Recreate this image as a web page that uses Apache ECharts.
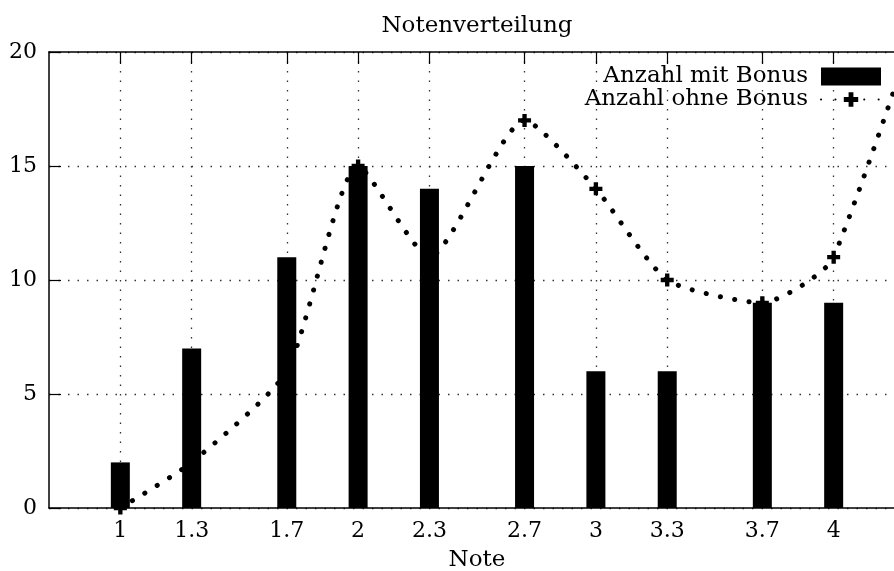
<!DOCTYPE html>
<html>
<head>
<meta charset="utf-8">
<script src="https://cdn.jsdelivr.net/npm/echarts@6/dist/echarts.min.js"></script>
<style>
  html, body { margin: 0; padding: 0; background: #fff; }
  #chart { width: 894px; height: 571px; }
</style>
</head>
<body>
<div id="chart"></div>
<script>
// Noten (x-Werte) und Häufigkeiten
const noten = [1, 1.3, 1.7, 2, 2.3, 2.7, 3, 3.3, 3.7, 4];
const mitBonus = [2, 7, 11, 15, 14, 15, 6, 6, 9, 9];
// ohne Bonus: letzter Punkt (5.0) liegt außerhalb des sichtbaren Bereichs, geschätzt
const notenOhne = [1, 1.3, 1.7, 2, 2.3, 2.7, 3, 3.3, 3.7, 4, 5];
const ohneBonus = [0, 2, 6, 15, 11, 17, 14, 10, 9, 11, 42];
const yTicks = [0, 5, 10, 15, 20];

const FONT = 'DejaVu Serif';
const chart = echarts.init(document.getElementById('chart'));

const plusSymbol = 'path://M3,0H6V3H9V6H6V9H3V6H0V3H3Z';

const option = {
  animation: false,
  backgroundColor: '#fff',
  title: {
    text: 'Notenverteilung',
    left: 477,
    top: 15,
    padding: 0,
    textAlign: 'center',
    textStyle: { fontFamily: FONT, fontSize: 23, fontWeight: 'normal', color: '#000' },
  },
  legend: {
    orient: 'vertical',
    align: 'right',
    right: 12,
    top: 65,
    padding: 0,
    itemWidth: 60,
    itemHeight: 18,
    itemGap: 0,
    data: [
      { name: 'Anzahl mit Bonus', icon: 'rect' },
      { name: 'Anzahl ohne Bonus' },
    ],
    textStyle: {
      fontFamily: FONT,
      fontSize: 23,
      color: '#000',
      lineHeight: 18,
      padding: [0, 8, 0, 0],
    },
  },
  grid: {
    left: 49,
    right: -11,
    top: 52,
    bottom: 63,
    outerBoundsMode: 'none',
    containLabel: false,
  },
  xAxis: [
    {
      type: 'value',
      min: 0.7,
      max: 4.3,
      name: 'Note',
      nameLocation: 'middle',
      nameGap: 41,
      nameTextStyle: { fontFamily: FONT, fontSize: 23, color: '#000' },
      axisLine: { show: true, onZero: false, lineStyle: { color: '#000', width: 1.5 } },
      axisTick: {
        show: true,
        inside: true,
        length: 12,
        customValues: noten,
        lineStyle: { color: '#000', width: 1.2 },
      },
      axisLabel: {
        customValues: noten,
        margin: 12,
        fontFamily: FONT,
        fontSize: 22,
        color: '#000',
      },
      splitLine: {
        show: true,
        lineStyle: { color: '#333', width: 1.3, type: [1.5, 8] },
      },
    },
    {
      type: 'value',
      position: 'top',
      min: 0.7,
      max: 4.3,
      axisLine: { show: true, onZero: false, lineStyle: { color: '#000', width: 1.5 } },
      axisTick: {
        show: true,
        inside: true,
        length: 12,
        customValues: noten,
        lineStyle: { color: '#000', width: 1.2 },
      },
      axisLabel: { show: false },
      splitLine: { show: false },
    },
  ],
  yAxis: {
    type: 'value',
    min: 0,
    max: 20,
    interval: 5,
    axisLine: { show: true, lineStyle: { color: '#000', width: 1.5 } },
    axisTick: { show: true, inside: true, length: 12, lineStyle: { color: '#000', width: 1.2 } },
    axisLabel: {
      margin: 12,
      fontFamily: FONT,
      fontSize: 22,
      color: '#000',
      padding: [3, 0, 0, 0],
      customValues: yTicks,
    },
    splitLine: {
      show: true,
      lineStyle: { color: '#333', width: 1.3, type: [1.5, 8] },
    },
  },
  series: [
    {
      name: 'Anzahl ohne Bonus',
      type: 'line',
      z: 2,
      smooth: 0.2,
      data: notenOhne.map((x, i) => [x, ohneBonus[i]]),
      symbol: plusSymbol,
      symbolSize: 13,
      showAllSymbol: true,
      itemStyle: { color: '#000' },
      lineStyle: { color: '#000', width: 5, type: [0.1, 14.3], cap: 'round' },
    },
    {
      name: 'Anzahl mit Bonus',
      type: 'bar',
      z: 3,
      barWidth: 19,
      data: noten.map((x, i) => [x, mitBonus[i]]),
      itemStyle: { color: '#000' },
    },
  ],
};

chart.setOption(option);
</script>
</body>
</html>
